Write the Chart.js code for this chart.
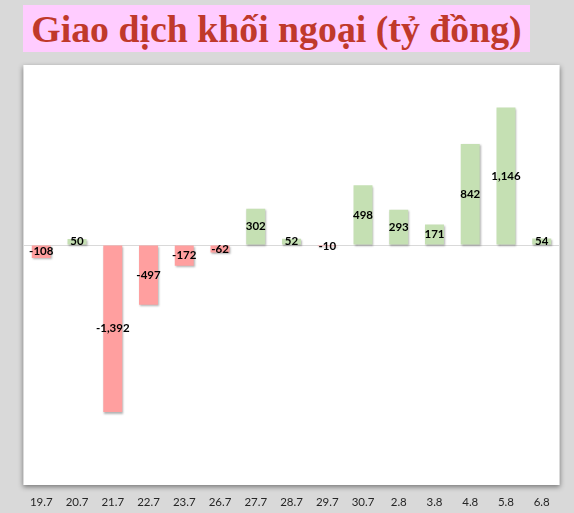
<!DOCTYPE html>
<html>
<head>
<meta charset="utf-8">
<script src="https://cdn.jsdelivr.net/npm/chart.js@4/dist/chart.umd.min.js"></script>
<style>
  html, body { margin: 0; padding: 0; background: #d9d9d9; }
  #wrap { position: relative; width: 574px; height: 513px; }
  #title {
    position: absolute; left: 23px; top: 5px; width: 507px; height: 47px;
    background: #ffccff; color: #c0392b;
    font: bold 37.8px "Liberation Serif", "Times New Roman", serif;
    line-height: 49px; text-align: center; white-space: nowrap;
  }
  canvas { position: absolute; left: 0; top: 0; }
</style>
</head>
<body>
<div id="wrap">
  <canvas id="myChart" width="574" height="513"></canvas>
  <div id="title">Giao dịch khối ngoại (tỷ đồng)</div>
</div>
<script>
// dates (day.month)
var days = ["19.7", "20.7", "21.7", "22.7", "23.7", "26.7", "27.7", "28.7", "29.7", "30.7", "2.8", "3.8", "4.8", "5.8", "6.8"];
// net foreign buy/sell, billion dong
var netValues = [-108, 50, -1392, -497, -172, -62, 302, 52, -10, 498, 293, 171, 842, 1146, 54];
var yMin = -2000;
var yMax = 1500;

var posColor = "#c5e0b3";
var negColor = "#ff9f9f";

// white plot box with soft shadow
var plotBox = {
  id: "plotBox",
  beforeDraw: function(chart) {
    var a = chart.chartArea, c = chart.ctx;
    c.save();
    c.shadowColor = "rgba(0,0,0,0.45)";
    c.shadowBlur = 5;
    c.shadowOffsetY = 2;
    c.fillStyle = "#ffffff";
    c.fillRect(a.left, a.top, a.right - a.left, a.bottom - a.top);
    c.restore();
  }
};

// shadow under the bars, then value labels in the middle of each bar
var barLabels = {
  id: "barLabels",
  beforeDatasetsDraw: function(chart) {
    var c = chart.ctx;
    c.save();
    c.shadowColor = "rgba(0,0,0,0.3)";
    c.shadowBlur = 2;
    c.shadowOffsetX = 1;
    c.shadowOffsetY = 1.5;
  },
  afterDatasetsDraw: function(chart) {
    var c = chart.ctx;
    c.restore();
    var meta = chart.getDatasetMeta(0);
    c.save();
    c.font = "bold 11.5px Lato, sans-serif";
    c.fillStyle = "#000000";
    c.textAlign = "center";
    c.textBaseline = "middle";
    meta.data.forEach(function(bar, i) {
      var y = (bar.y + bar.base) / 2;
      c.fillText(netValues[i].toLocaleString("en-US"), bar.x, y);
    });
    c.restore();
  }
};

var ctx = document.getElementById("myChart");

var myChart = new Chart(ctx, {
  type: "bar",
  data: {
    labels: days,
    datasets: [{
      data: netValues,
      backgroundColor: netValues.map(function(v) { return v < 0 ? negColor : posColor; }),
      borderWidth: 0,
      barPercentage: 0.53,
      categoryPercentage: 1
    }]
  },
  options: {
    responsive: false,
    animation: false,
    devicePixelRatio: 1,
    layout: { padding: { left: 23.4, right: 14.4, top: 65, bottom: 0 } },
    plugins: { legend: { display: false }, tooltip: { enabled: false } },
    scales: {
      x: {
        grid: { display: false, drawTicks: false },
        border: { display: false },
        ticks: { color: "#262626", font: { family: "Lato", size: 11.5 }, padding: 10, maxRotation: 0, autoSkip: false },
        afterFit: function(s) { s.height = 28; }
      },
      y: {
        min: yMin,
        max: yMax,
        ticks: { display: false, stepSize: 500 },
        border: { display: false },
        grid: {
          drawTicks: false,
          color: function(c) { return c.tick && c.tick.value === 0 ? "#d9d9d9" : "rgba(0,0,0,0)"; }
        },
        afterFit: function(s) { s.width = 0; }
      }
    }
  },
  plugins: [plotBox, barLabels]
});
</script>
</body>
</html>
